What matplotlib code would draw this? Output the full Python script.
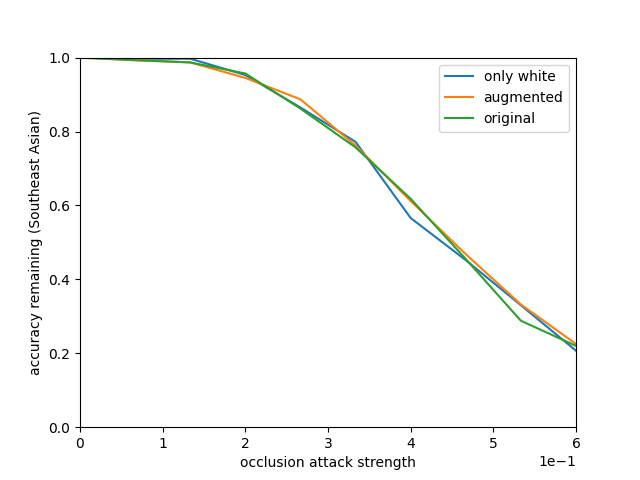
import numpy as np
import matplotlib
matplotlib.use("Agg")
import matplotlib.pyplot as plt

strength = [0.0, 1/15, 2/15, 3/15, 4/15, 5/15, 6/15, 7/15, 8/15, 9/15]
only_white = [1.0, 0.997, 0.997, 0.953, 0.865, 0.772, 0.566, 0.452, 0.330, 0.207]
augmented = [1.0, 0.993, 0.987, 0.945, 0.887, 0.762, 0.612, 0.468, 0.332, 0.225]
original = [1.0, 0.993, 0.987, 0.957, 0.862, 0.757, 0.618, 0.455, 0.288, 0.220]

fig, ax = plt.subplots(figsize=(6.4, 4.8), dpi=100)
ax.plot(strength, only_white, label='only white')
ax.plot(strength, augmented, label='augmented')
ax.plot(strength, original, label='original')
ax.set_xlim(0, 0.6)
ax.set_ylim(0, 1)
ax.ticklabel_format(axis='x', style='sci', scilimits=(0, 0))
ax.set_xlabel('occlusion attack strength')
ax.set_ylabel('accuracy remaining (Southeast Asian)')
ax.legend()
fig.savefig('out.png')
